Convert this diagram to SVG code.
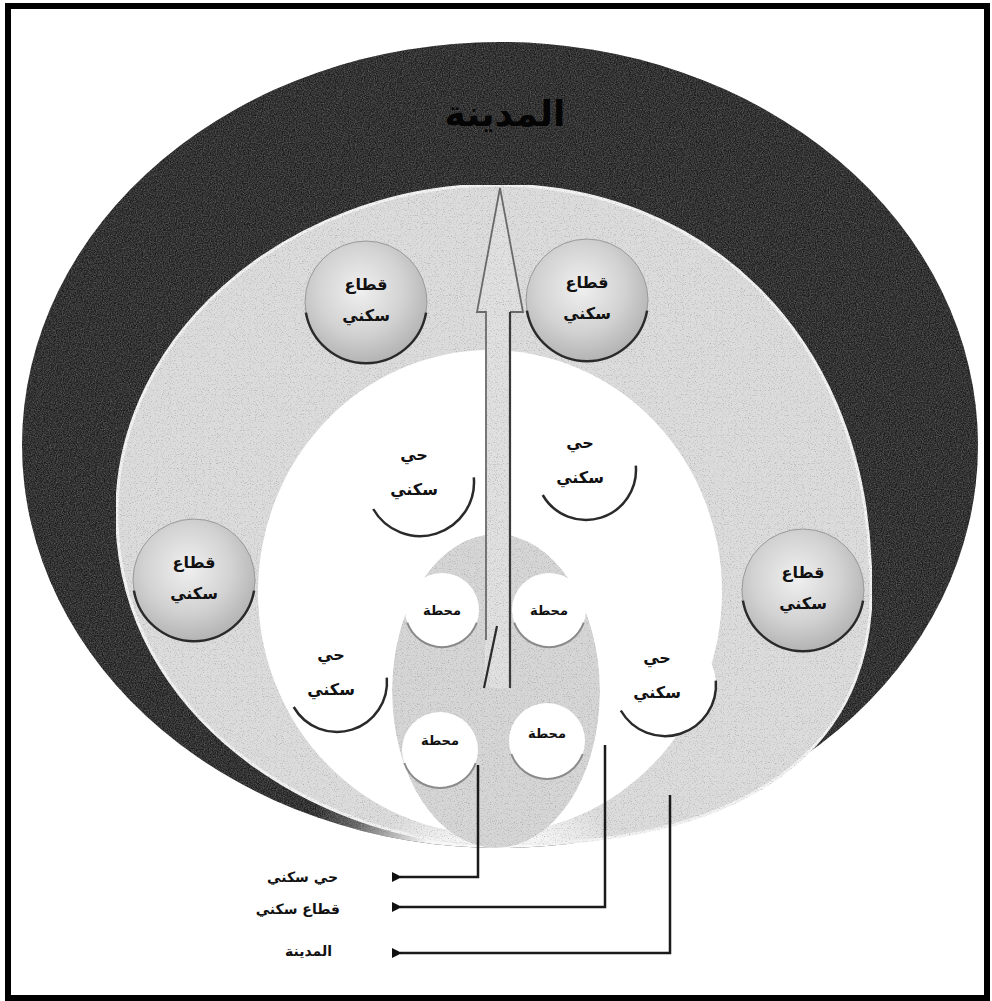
<svg xmlns="http://www.w3.org/2000/svg" width="992" height="1001" viewBox="0 0 992 1001">
<style>
.t{font-family:"DejaVu Sans",sans-serif;font-weight:bold;fill:#111;text-anchor:middle}
.st{font-size:16px}
.ss{font-size:13px}
.lb{font-family:"DejaVu Sans",sans-serif;font-weight:bold;fill:#111;font-size:14px;text-anchor:end}
.arcD{fill:none;stroke:#2a2a2a;stroke-width:2.5}
.arcG{fill:none;stroke:#8a8a8a;stroke-width:2}
.conn{fill:none;stroke:#1a1a1a;stroke-width:2.5}
</style>
<defs>
<radialGradient id="darkG" gradientUnits="userSpaceOnUse" cx="500" cy="905" r="300">
<stop offset="0" stop-color="#ffffff"/>
<stop offset="0.32" stop-color="#f4f4f4"/>
<stop offset="0.55" stop-color="#555555"/>
<stop offset="0.7" stop-color="#1c1c1c"/>
<stop offset="1" stop-color="#1c1c1c"/>
</radialGradient>
<radialGradient id="grayG" gradientUnits="userSpaceOnUse" cx="500" cy="905" r="300">
<stop offset="0" stop-color="#ffffff"/>
<stop offset="0.25" stop-color="#f6f6f6"/>
<stop offset="0.45" stop-color="#dcdcdc"/>
<stop offset="1" stop-color="#dcdcdc"/>
</radialGradient>
<radialGradient id="satG" cx="0.45" cy="0.4" r="0.6">
<stop offset="0" stop-color="#f0f0f0"/>
<stop offset="0.6" stop-color="#d2d2d2"/>
<stop offset="1" stop-color="#b4b4b4"/>
</radialGradient>
<filter id="darkN" x="0" y="0" width="100%" height="100%" color-interpolation-filters="sRGB">
<feTurbulence type="fractalNoise" baseFrequency="0.85" numOctaves="2" seed="3" result="n"/>
<feColorMatrix in="n" type="matrix" values="0.45 0 0 0 -0.12  0.45 0 0 0 -0.12  0.45 0 0 0 -0.12  0 0 0 0 1" result="cm"/>
<feBlend in="SourceGraphic" in2="cm" mode="screen" result="b"/>
<feComposite in="b" in2="SourceGraphic" operator="in"/>
</filter>
<filter id="grayN" x="0" y="0" width="100%" height="100%" color-interpolation-filters="sRGB">
<feTurbulence type="fractalNoise" baseFrequency="0.85" numOctaves="2" seed="7" result="n"/>
<feColorMatrix in="n" type="matrix" values="0.6 0 0 0 0.72  0.6 0 0 0 0.72  0.6 0 0 0 0.72  0 0 0 0 1" result="cm"/>
<feBlend in="SourceGraphic" in2="cm" mode="multiply" result="b"/>
<feComposite in="b" in2="SourceGraphic" operator="in"/>
</filter>
<marker id="ah" viewBox="0 0 10 10" refX="2" refY="5" markerWidth="4" markerHeight="4" orient="auto">
<path d="M10,0 L0,5 L10,10 Z" fill="#111"/>
</marker>
</defs>
<rect x="0" y="0" width="992" height="1001" fill="#ffffff"/>
<g id="city">
<ellipse cx="500" cy="445" rx="478" ry="403" fill="url(#darkG)" filter="url(#darkN)"/>
<text class="t" x="505" y="126" style="font-size:36px;fill:#050505">المدينة</text>
</g>
<g id="sectorZone">
<path d="M497,185 C700,185 860,330 870,560 C885,740 760,845 500,845 C330,845 135,730 118,540 C100,340 290,185 497,185 Z" fill="url(#grayG)" stroke="#f2f2f2" stroke-width="3" filter="url(#grayN)"/>
</g>
<g id="districtZone">
<ellipse cx="490" cy="592" rx="232" ry="242" fill="#ffffff"/>
</g>
<g id="stationZone">
<ellipse cx="496" cy="691" rx="104" ry="157" fill="#d6d6d6" filter="url(#grayN)"/>
</g>
<g id="axisArrow">
<path d="M486,640 L486,312 L477,312 L500,188 L523,312 L510,312 L510,688 L484,688 Z" fill="#e0e0e0" filter="url(#grayN)"/>
<path d="M486,640 L486,312 L477,312 L500,188 L523,312 L510,312" fill="none" stroke="#6a6a6a" stroke-width="1.8"/>
<path d="M510,312 L510,688" fill="none" stroke="#3a3a3a" stroke-width="2.2"/>
<path d="M497,626 L484,688" fill="none" stroke="#2a2a2a" stroke-width="2.2"/>
</g>
<g id="sector1" transform="translate(366,302)">
<circle r="61" fill="url(#satG)" stroke="#9a9a9a" stroke-width="1"/>
<path class="arcD" d="M60.1,10.6 A61,61 0 0 1 -60.1,10.6"/>
<text class="t st" x="0" y="-12">قطاع</text>
<text class="t st" x="0" y="19">سكني</text>
</g>
<g id="sector2" transform="translate(587,300)">
<circle r="61" fill="url(#satG)" stroke="#9a9a9a" stroke-width="1"/>
<path class="arcD" d="M60.1,10.6 A61,61 0 0 1 -60.1,10.6"/>
<text class="t st" x="0" y="-12">قطاع</text>
<text class="t st" x="0" y="19">سكني</text>
</g>
<g id="sector3" transform="translate(194,580)">
<circle r="61" fill="url(#satG)" stroke="#9a9a9a" stroke-width="1"/>
<path class="arcD" d="M60.1,10.6 A61,61 0 0 1 -60.1,10.6"/>
<text class="t st" x="0" y="-12">قطاع</text>
<text class="t st" x="0" y="19">سكني</text>
</g>
<g id="sector4" transform="translate(803,590)">
<circle r="61" fill="url(#satG)" stroke="#9a9a9a" stroke-width="1"/>
<path class="arcD" d="M60.1,10.6 A61,61 0 0 1 -60.1,10.6"/>
<text class="t st" x="0" y="-12">قطاع</text>
<text class="t st" x="0" y="19">سكني</text>
</g>
<g id="district1" transform="translate(420,482)">
<circle r="54" fill="#ffffff"/>
<path class="arcD" d="M53.8,-4.7 A54,54 0 0 1 -46.8,27"/>
<text class="t st" x="-6" y="-22">حي</text>
<text class="t st" x="-6" y="13">سكني</text>
</g>
<g id="district2" transform="translate(586,470)">
<circle r="50" fill="#ffffff"/>
<path class="arcD" d="M49.8,-4.4 A50,50 0 0 1 -43.3,25"/>
<text class="t st" x="-6" y="-22">حي</text>
<text class="t st" x="-6" y="13">سكني</text>
</g>
<g id="district3" transform="translate(337,682)">
<circle r="50" fill="#ffffff"/>
<path class="arcD" d="M49.8,-4.4 A50,50 0 0 1 -43.3,25"/>
<text class="t st" x="-6" y="-22">حي</text>
<text class="t st" x="-6" y="13">سكني</text>
</g>
<g id="district4" transform="translate(665,685)">
<circle r="51" fill="#ffffff"/>
<path class="arcD" d="M50.8,-4.4 A51,51 0 0 1 -44.2,25.5"/>
<text class="t st" x="-8" y="-22">حي</text>
<text class="t st" x="-8" y="13">سكني</text>
</g>
<g id="station1" transform="translate(442,610)">
<circle r="37" fill="#ffffff"/>
<path class="arcG" d="M34.8,12.7 A37,37 0 0 1 -34.8,12.7"/>
<text class="t ss" x="0" y="5">محطة</text>
</g>
<g id="station2" transform="translate(549,610)">
<circle r="37" fill="#ffffff"/>
<path class="arcG" d="M34.8,12.7 A37,37 0 0 1 -34.8,12.7"/>
<text class="t ss" x="0" y="5">محطة</text>
</g>
<g id="station3" transform="translate(440,750)">
<circle r="38" fill="#ffffff"/>
<path class="arcG" d="M35.7,13 A38,38 0 0 1 -35.7,13"/>
<text class="t ss" x="0" y="-5">محطة</text>
</g>
<g id="station4" transform="translate(547,741)">
<circle r="38" fill="#ffffff"/>
<path class="arcG" d="M35.7,13 A38,38 0 0 1 -35.7,13"/>
<text class="t ss" x="0" y="-3">محطة</text>
</g>
<g id="connectors">
<path class="conn" d="M478,765 L478,877 L400,877" marker-end="url(#ah)"/>
<path class="conn" d="M605,745 L605,907 L400,907" marker-end="url(#ah)"/>
<path class="conn" d="M670,795 L670,953 L400,953" marker-end="url(#ah)"/>
</g>
<g id="legend">
<text class="lb" x="338" y="882">حي سكني</text>
<text class="lb" x="340" y="914">قطاع سكني</text>
<text class="lb" x="332" y="956">المدينة</text>
</g>
<rect x="8" y="6" width="979" height="992" fill="none" stroke="#000" stroke-width="6"/>
</svg>
